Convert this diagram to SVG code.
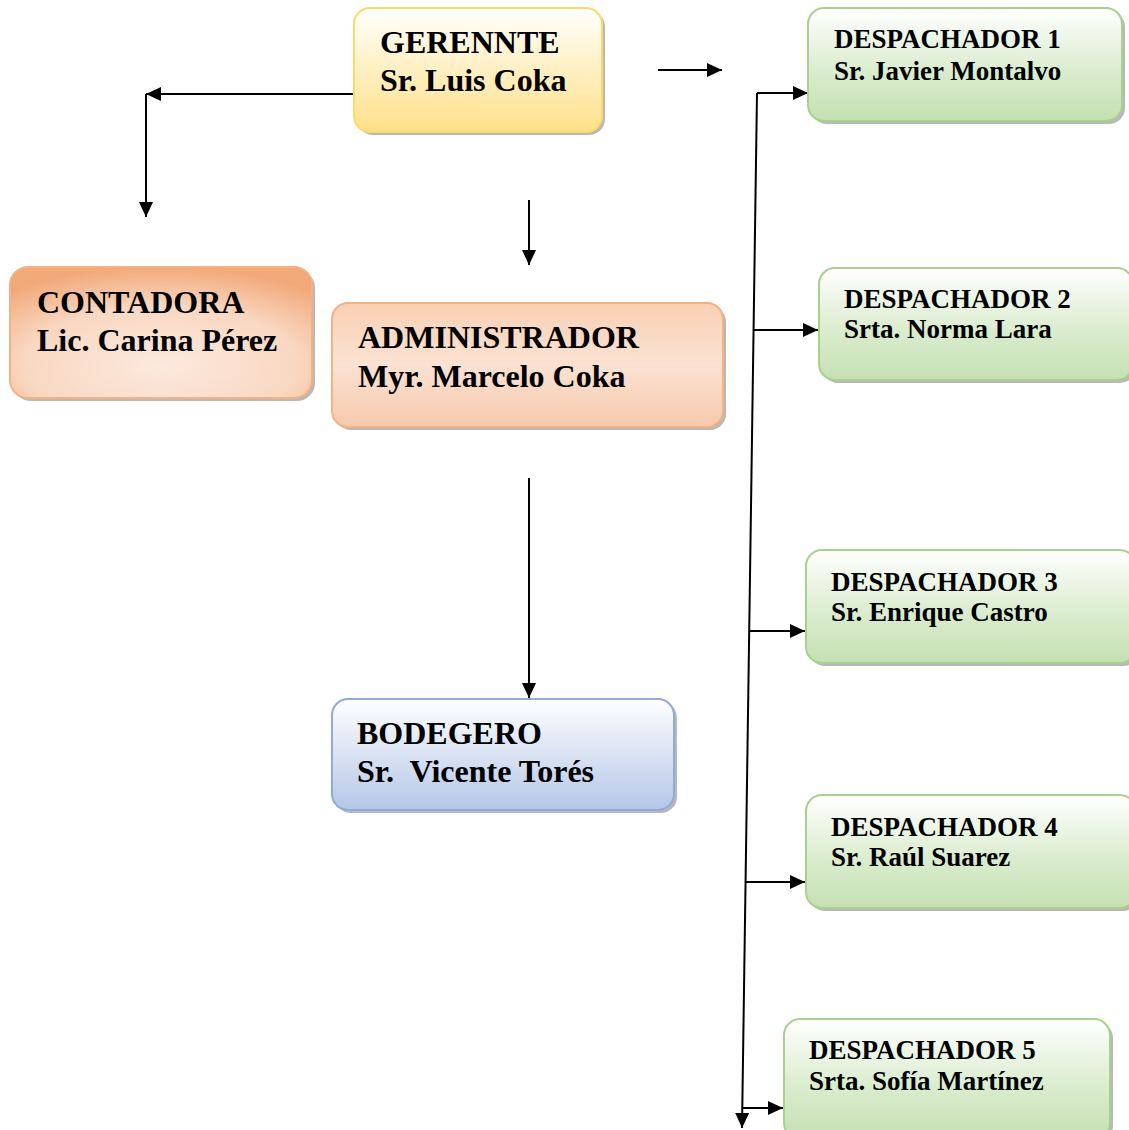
<svg xmlns="http://www.w3.org/2000/svg" width="1129" height="1130" viewBox="0 0 1129 1130">
<style>
.t1{font-family:"Liberation Serif","Times New Roman",serif;font-weight:bold;font-size:32px;fill:#000}
.t2{font-family:"Liberation Serif","Times New Roman",serif;font-weight:bold;font-size:27px;fill:#000}
.ln{stroke:#000;stroke-width:2;fill:none}
.sh{fill:#A6A6A6;opacity:0.8}
</style>
<defs>
<linearGradient id="gy" x1="0" y1="0" x2="0" y2="1"><stop offset="0" stop-color="#FFFFFF"/><stop offset="0.5" stop-color="#FFF0C2"/><stop offset="1" stop-color="#FFE08A"/></linearGradient>
<radialGradient id="go" cx="0.5" cy="0.75" r="0.75"><stop offset="0" stop-color="#FCE9DD"/><stop offset="0.6" stop-color="#F9D8C2"/><stop offset="1" stop-color="#F2A97A"/></radialGradient>
<linearGradient id="ga" x1="0" y1="0" x2="0" y2="1"><stop offset="0" stop-color="#F9D0B4"/><stop offset="0.5" stop-color="#FBE2D2"/><stop offset="1" stop-color="#F6C9AC"/></linearGradient>
<linearGradient id="gb" x1="0" y1="0" x2="0" y2="1"><stop offset="0" stop-color="#FFFFFF"/><stop offset="1" stop-color="#B4C6E7"/></linearGradient>
<linearGradient id="gg" x1="0" y1="0" x2="0" y2="1"><stop offset="0" stop-color="#FFFFFF"/><stop offset="0.6" stop-color="#D8EBCB"/><stop offset="1" stop-color="#C5E0B3"/></linearGradient>
<marker id="ah" viewBox="0 0 15 14" refX="15" refY="7" markerWidth="7.5" markerHeight="7" markerUnits="strokeWidth" orient="auto"><path d="M0,0 L15,7 L0,14 Z" fill="#000"/></marker>
</defs>

<g id="connectors">
<path class="ln" d="M354,94 H146" marker-end="url(#ah)"/>
<path class="ln" d="M146,94 V217" marker-end="url(#ah)"/>
<path class="ln" d="M658,70 H722" marker-end="url(#ah)"/>
<path class="ln" d="M529,200 V265" marker-end="url(#ah)"/>
<path class="ln" d="M529,478 V698" marker-end="url(#ah)"/>
<path class="ln" d="M757,93 L742,1128" marker-end="url(#ah)"/>
<path class="ln" d="M757,93 H808" marker-end="url(#ah)"/>
<path class="ln" d="M754,330 H818" marker-end="url(#ah)"/>
<path class="ln" d="M750,631 H805" marker-end="url(#ah)"/>
<path class="ln" d="M746,882 H805" marker-end="url(#ah)"/>
<path class="ln" d="M743,1108 H783" marker-end="url(#ah)"/>
</g>

<g id="gerente">
<rect class="sh" x="357" y="11" width="248" height="124" rx="16"/>
<rect x="354" y="8" width="248" height="124" rx="16" fill="url(#gy)" stroke="#FFD966" stroke-width="2"/>
<text class="t1" x="380" y="53">GERENNTE</text>
<text class="t1" x="380" y="91">Sr. Luis Coka</text>
</g>

<g id="contadora">
<rect class="sh" x="13" y="270" width="302" height="131" rx="18"/>
<rect x="10" y="267" width="302" height="131" rx="18" fill="url(#go)" stroke="#F4B183" stroke-width="2"/>
<text class="t1" x="37" y="313">CONTADORA</text>
<text class="t1" x="37" y="351">Lic. Carina Pérez</text>
</g>

<g id="administrador">
<rect class="sh" x="335" y="306" width="391" height="124" rx="16"/>
<rect x="332" y="303" width="391" height="124" rx="16" fill="url(#ga)" stroke="#F4B183" stroke-width="2"/>
<text class="t1" x="358" y="348">ADMINISTRADOR</text>
<text class="t1" x="358" y="387">Myr. Marcelo Coka</text>
</g>

<g id="bodegero">
<rect class="sh" x="335" y="702" width="342" height="111" rx="16"/>
<rect x="332" y="699" width="342" height="111" rx="16" fill="url(#gb)" stroke="#8FAADC" stroke-width="2"/>
<text class="t1" x="357" y="744">BODEGERO</text>
<text class="t1" x="357" y="782" xml:space="preserve">Sr.  Vicente Torés</text>
</g>

<g id="despachador1">
<rect class="sh" x="811" y="11" width="314" height="113" rx="16"/>
<rect x="808" y="8" width="314" height="113" rx="16" fill="url(#gg)" stroke="#A9D18E" stroke-width="2"/>
<text class="t2" x="834" y="48">DESPACHADOR 1</text>
<text class="t2" x="834" y="80">Sr. Javier Montalvo</text>
</g>

<g id="despachador2">
<rect class="sh" x="822" y="271" width="314" height="112" rx="16"/>
<rect x="819" y="268" width="314" height="112" rx="16" fill="url(#gg)" stroke="#A9D18E" stroke-width="2"/>
<text class="t2" x="844" y="308">DESPACHADOR 2</text>
<text class="t2" x="844" y="338">Srta. Norma Lara</text>
</g>

<g id="despachador3">
<rect class="sh" x="809" y="553" width="330" height="113" rx="16"/>
<rect x="806" y="550" width="330" height="113" rx="16" fill="url(#gg)" stroke="#A9D18E" stroke-width="2"/>
<text class="t2" x="831" y="591">DESPACHADOR 3</text>
<text class="t2" x="831" y="621">Sr. Enrique Castro</text>
</g>

<g id="despachador4">
<rect class="sh" x="809" y="798" width="330" height="113" rx="16"/>
<rect x="806" y="795" width="330" height="113" rx="16" fill="url(#gg)" stroke="#A9D18E" stroke-width="2"/>
<text class="t2" x="831" y="836">DESPACHADOR 4</text>
<text class="t2" x="831" y="866">Sr. Raúl Suarez</text>
</g>

<g id="despachador5">
<rect class="sh" x="787" y="1022" width="326" height="120" rx="16"/>
<rect x="784" y="1019" width="326" height="120" rx="16" fill="url(#gg)" stroke="#A9D18E" stroke-width="2"/>
<text class="t2" x="809" y="1059">DESPACHADOR 5</text>
<text class="t2" x="809" y="1090">Srta. Sofía Martínez</text>
</g>
</svg>
